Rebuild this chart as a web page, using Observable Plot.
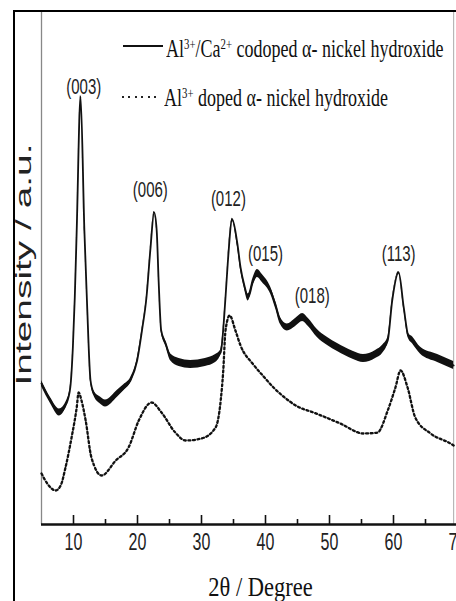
<!DOCTYPE html>
<html>
<head>
<meta charset="utf-8">
<script src="https://cdn.jsdelivr.net/npm/d3@7"></script>
<script src="https://cdn.jsdelivr.net/npm/@observablehq/plot@0.6"></script>
<style>
  html, body { margin: 0; padding: 0; background: #fff; }
  #wrap { position: relative; width: 456px; height: 601px; overflow: hidden; background: #fff; }
  #chart { position: absolute; left: 0; top: 0; }
  #outer { position: absolute; left: 13px; top: 10px; right: -10px; bottom: -10px;
           border-left: 2.6px solid #000; border-top: 2.8px solid #000; pointer-events: none; }
  .lg { position: absolute; font-family: "Liberation Serif", "Times New Roman", serif; font-size: 18px;
        line-height: 20px; white-space: nowrap; transform: scaleY(1.4); transform-origin: left center; color: #111; }
  .lg sup { font-size: 0.6em; vertical-align: 0.55em; line-height: 0; }
  .sw { position: absolute; }
  .sw.solid { height: 2.5px; background: #111; }
  .sw.dot { height: 2px; background: repeating-linear-gradient(to right, #222 0 2px, transparent 2px 6.4px); }
</style>
</head>
<body>
<div id="wrap">
  <div id="chart"></div>
  <div id="outer"></div>
  <div class="sw solid" style="left:123px; top:44.5px; width:40px"></div>
  <div class="lg" style="left:166px; top:38.5px">Al<sup>3+</sup>/Ca<sup>2+</sup> codoped α- nickel hydroxide</div>
  <div class="sw dot" style="left:122px; top:96px; width:38px"></div>
  <div class="lg" style="left:164px; top:87.5px">Al<sup>3+</sup> doped α- nickel hydroxide</div>
</div>
<script>
// ---- Data ----
// Al3+/Ca2+ codoped (solid line): 2θ (deg), intensity (a.u.), noise half-width (a.u.)
const solidTheta = [5.0, 6.4, 7.8, 8.9, 9.5, 9.9, 10.2, 10.5, 11.1, 11.7, 12.1, 12.66, 13.2, 14.2, 15.0, 16.9, 17.9, 18.9, 19.95, 20.7, 21.4, 22.0, 22.6, 23.0, 23.3, 23.7, 24.4, 25.2, 26.5, 28.3, 30.6, 32.2, 33.0, 33.75, 34.1, 34.8, 35.6, 36.1, 36.7, 37.3, 38.0, 38.75, 39.5, 40.8, 41.6, 42.3, 43.4, 44.7, 45.8, 46.7, 48.1, 49.7, 51.25, 53.75, 55.3, 57.2, 58.4, 59.1, 59.8, 60.8, 61.6, 62.3, 63.0, 64.2, 66.9, 69.4];
const solidI = [141, 124, 112, 121, 137, 177, 227, 294, 428, 294, 224, 144, 131, 124, 121, 131, 137, 144, 164, 194, 227, 274, 312, 294, 244, 194, 181, 167, 162, 160, 162, 166, 172, 227, 261, 305, 281, 257, 239, 227, 242, 251, 246, 234, 219, 204, 197, 202, 207, 202, 191, 183, 177, 169, 166, 170, 176, 184, 224, 252, 217, 189, 184, 174, 166, 159];
const solidNoise = [3, 3, 3.5, 2.5, 1.5, 1, 1, 1, 1, 1, 1, 1.5, 2.5, 3.5, 3.5, 3.5, 3, 2.5, 2, 1.2, 1, 1, 1, 1, 1, 1.2, 2.5, 3.5, 4, 4, 4, 4, 2.5, 1, 1, 1.2, 2.5, 2.5, 3, 3.5, 3.5, 4, 4, 3.5, 3.5, 3.5, 3.5, 4, 4, 4, 4, 4, 4, 4, 4, 4, 4, 3, 1.2, 1, 1.2, 2.5, 3.5, 3.5, 4, 4];

// Al3+ doped (dotted line)
const dopedTheta = [5.0, 5.9, 7.2, 8.0, 8.75, 9.7, 10.5, 10.8, 11.25, 11.9, 12.8, 14.4, 16.6, 18.6, 20.2, 22.2, 23.75, 25.9, 27.5, 30.0, 32.2, 33.0, 33.4, 33.75, 34.4, 35.3, 36.1, 38.1, 39.7, 41.25, 42.8, 45.0, 47.5, 51.7, 55.3, 57.5, 59.1, 60.3, 61.1, 62.2, 63.4, 65.8, 68.9, 69.4];
const dopedI = [51, 41, 34, 39, 57, 87, 117, 132, 124, 104, 67, 49, 64, 77, 104, 122, 112, 92, 84, 86, 97, 124, 154, 194, 209, 194, 179, 160, 148, 137, 128, 118, 112, 101, 91, 92, 114, 137, 154, 137, 107, 91, 81, 79];

// Peak (hkl) labels
const peakLabels = ["(003)", "(006)", "(012)", "(015)", "(018)", "(113)"];
const peakLabelTheta = [11.6, 22.0, 34.2, 40.0, 47.3, 60.8];
const peakLabelI = [438, 335, 326, 271, 229, 271];

// Axis ticks
const majorTicks = [10, 20, 30, 40, 50, 60, 70];
const minorTicks = [15, 25, 35, 45, 55, 65];
const xDomain = [5, 70];
const yDomain = [0, 512];
const frameRightTheta = 69.4;
const xTitle = "2θ / Degree";
const yTitle = "Intensity / a.u.";

const solid = solidTheta.map((t, i) => ({t, i: solidI[i], s: solidNoise[i]}));
const doped = dopedTheta.map((t, i) => ({t, i: dopedI[i]}));
const peaks = peakLabels.map((l, k) => ({l, t: peakLabelTheta[k], i: peakLabelI[k]}));

const svg = Plot.plot({
  width: 456,
  height: 601,
  marginLeft: 41,
  marginRight: 0,
  marginTop: 12,
  marginBottom: 77,
  style: {background: "transparent", fontFamily: "Liberation Sans, Arial, sans-serif", overflow: "visible"},
  x: {domain: xDomain, range: [41, 457], axis: null},
  y: {domain: yDomain, range: [524, 12], axis: null},
  marks: [
    Plot.ruleX([xDomain[0]], {stroke: "#888", strokeWidth: 1.3}),
    Plot.ruleX([frameRightTheta], {stroke: "#aaa", strokeWidth: 1}),
    Plot.areaY(solid, {x: "t", y1: d => d.i - d.s, y2: d => d.i + d.s, fill: "#111", curve: "monotone-x"}),
    Plot.line(solid, {x: "t", y: "i", stroke: "#111", strokeWidth: 1.8, curve: "monotone-x"}),
    Plot.line(doped, {x: "t", y: "i", stroke: "#111", strokeWidth: 2.3, strokeDasharray: "2,2.6", curve: "monotone-x"}),
    Plot.ruleY([yDomain[0]], {stroke: "#111", strokeWidth: 2.5}),
    Plot.ruleX(majorTicks, {x: d => d, y1: 0, y2: 9, stroke: "#111", strokeWidth: 1.6}),
    Plot.ruleX(minorTicks, {x: d => d, y1: 0, y2: 5, stroke: "#111", strokeWidth: 1.6}),
    Plot.text(majorTicks, {x: d => d, y: 0, dy: 18, text: d => String(d), fontSize: 16, fill: "#222", fontFamily: "Liberation Sans, Arial, sans-serif"}),
    Plot.text(peaks, {x: "t", y: "i", text: "l", fontSize: 15, fill: "#222", fontFamily: "Liberation Sans, Arial, sans-serif"}),
    Plot.text([xTitle], {frameAnchor: "bottom", textAnchor: "middle", lineAnchor: "middle", dx: 11.5, dy: 62, fontSize: 22.5, fill: "#111", fontFamily: "Liberation Serif, Times New Roman, serif"}),
    Plot.text([yTitle], {frameAnchor: "left", textAnchor: "middle", lineAnchor: "middle", rotate: -90, dx: -17.5, dy: -4, fontSize: 23, fill: "#222", fontFamily: "Liberation Sans, Arial, sans-serif"})
  ]
});

// stretch text vertically like the reference picture
const textGroups = svg.querySelectorAll('g[aria-label="text"]');
const stretch = [[1, 1.54], [1, 1.5], [1, 1.25], [1.69, 1]];
textGroups.forEach((g, k) => {
  const [sx, sy] = stretch[k] || [1, 1];
  g.querySelectorAll("text").forEach(t => {
    const tr = t.getAttribute("transform") || "";
    t.setAttribute("transform", tr + ` scale(${sx},${sy})`);
  });
});

document.getElementById("chart").appendChild(svg);
</script>
</body>
</html>
